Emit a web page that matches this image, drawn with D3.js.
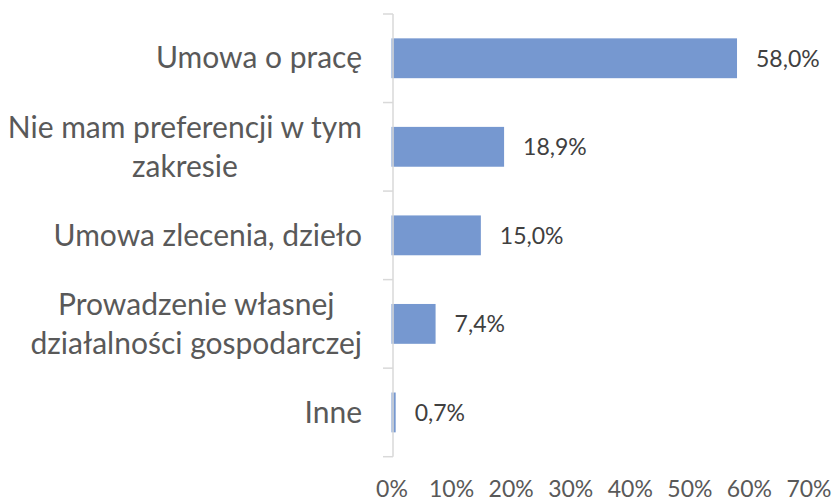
<!DOCTYPE html>
<html>
<head>
<meta charset="utf-8">
<script src="https://cdn.jsdelivr.net/npm/d3@7"></script>
<style>
    body { margin: 0; background: #fff; }
    svg { display: block; font-family: Lato, "Open Sans", sans-serif; }
</style>
</head>
<body>
<div id="chart"></div>
<script>
// data
var categories = [
    "Umowa o pracę",
    "Nie mam preferencji w tym\nzakresie",
    "Umowa zlecenia, dzieło",
    "Prowadzenie własnej\ndziałalności gospodarczej",
    "Inne"
];
var values = [0.580, 0.189, 0.150, 0.074, 0.007];
var xTicks = [0, 0.1, 0.2, 0.3, 0.4, 0.5, 0.6, 0.7];

var plLocale = d3.formatLocale({ decimal: ",", thousands: " ", grouping: [3], currency: ["", " zł"] });
var fmtValue = plLocale.format(".1%");
var fmtTick = plLocale.format(".0%");

var width = 835, height = 501;
var axisX = 393;

var svg = d3.select("#chart").append("svg")
    .attr("width", width)
    .attr("height", height);

var x = d3.scaleLinear()
    .domain([0, 0.7])
    .range([391.5, 808.5]);

var y = d3.scaleBand()
    .domain(categories)
    .range([14, 456.7])
    .paddingInner(0.55)
    .paddingOuter(0.275);

var data = categories.map(function (c, i) {
    return { name: c, value: values[i] };
});

// bars
svg.append("g").selectAll("rect")
    .data(data)
    .enter()
    .append("rect")
    .attr("x", x(0))
    .attr("y", function (d) { return y(d.name); })
    .attr("width", function (d) { return x(d.value) - x(0); })
    .attr("height", y.bandwidth())
    .attr("fill", "#7698d0");

// category axis: line + ticks between categories (excel style)
var gy = svg.append("g").attr("stroke", "#d9d9d9").attr("stroke-width", 1.5);
gy.append("line")
    .attr("x1", axisX).attr("x2", axisX)
    .attr("y1", y.range()[0]).attr("y2", y.range()[1]);

var bounds = categories.map(function (c) {
    return y(c) - y.step() * y.paddingInner() / 2;
});
bounds.push(y.range()[1]);

gy.selectAll(".tick")
    .data(bounds)
    .enter()
    .append("line")
    .attr("x1", axisX - 10).attr("x2", axisX)
    .attr("y1", function (d) { return d; })
    .attr("y2", function (d) { return d; });

// category labels, wrapped lines centred inside a right-aligned block
var lineH = 39;
var labels = svg.append("g")
    .attr("fill", "#595959")
    .attr("font-size", "30px")
    .selectAll("g")
    .data(data)
    .enter()
    .append("g");

labels.each(function (d) {
    var g = d3.select(this);
    var lines = d.name.split("\n");
    var cy = y(d.name) + y.bandwidth() / 2;
    var texts = lines.map(function (l, i) {
        return g.append("text")
            .attr("text-anchor", "middle")
            .attr("y", cy + (i - (lines.length - 1) / 2) * lineH)
            .attr("dy", "0.34em")
            .text(l);
    });
    var maxW = d3.max(texts, function (t) { return t.node().getComputedTextLength(); });
    texts.forEach(function (t) { t.attr("x", 362 - maxW / 2); });
});

// value labels
svg.append("g").selectAll("text")
    .data(data)
    .enter()
    .append("text")
    .attr("x", function (d) { return x(d.value) + 19; })
    .attr("y", function (d) { return y(d.name) + y.bandwidth() / 2; })
    .attr("dy", "0.36em")
    .attr("fill", "#404040")
    .attr("font-size", "23px")
    .text(function (d) { return fmtValue(d.value); });

// value axis: labels only
var xAxis = d3.axisBottom(x)
    .tickValues(xTicks)
    .tickFormat(fmtTick)
    .tickSize(0)
    .tickPadding(24);

var gx = svg.append("g")
    .attr("transform", "translate(0," + y.range()[1] + ")")
    .call(xAxis);
gx.select(".domain").remove();
gx.selectAll("text")
    .attr("fill", "#595959")
    .style("font-family", "Lato, 'Open Sans', sans-serif")
    .style("font-size", "23px");
</script>
</body>
</html>
